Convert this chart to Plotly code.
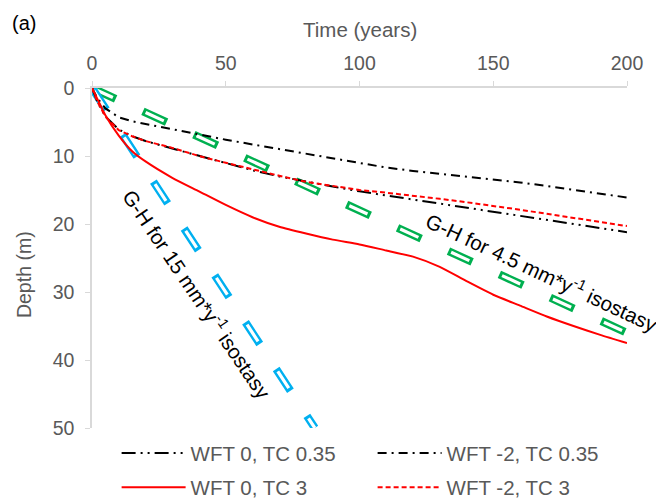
import plotly.graph_objects as go

# ---- data ----
years = [0, 2, 5, 10, 15, 20, 30, 40, 50, 60, 70, 80, 90, 100, 110, 120, 130, 140, 150, 160, 170, 180, 190, 200]
wft0_tc035 = [0, 2.0, 4.2, 6.1, 7.1, 7.8, 8.9, 10.0, 11.1, 12.1, 13.0, 13.8, 14.5, 15.2, 15.8, 16.4, 17.0, 17.6, 18.2, 18.8, 19.4, 20.0, 20.6, 21.2]
wftm2_tc035 = [0, 1.5, 3.0, 4.3, 4.9, 5.3, 6.0, 6.9, 7.6, 8.3, 9.0, 9.6, 10.4, 11.1, 11.7, 12.2, 12.6, 13.0, 13.4, 13.9, 14.4, 15.0, 15.5, 16.1]
wft0_tc3 = [0, 1.6, 4.0, 7.0, 9.3, 10.8, 13.2, 15.2, 17.2, 19.0, 20.4, 21.4, 22.3, 23.0, 23.9, 24.8, 26.3, 28.4, 30.4, 32.0, 33.6, 35.0, 36.3, 37.5]
wftm2_tc3 = [0, 2.0, 4.2, 6.2, 7.1, 7.8, 8.8, 10.0, 11.0, 12.0, 12.9, 13.8, 14.4, 15.0, 15.4, 15.8, 16.3, 16.8, 17.3, 17.9, 18.5, 19.1, 19.7, 20.3]

gh45_t = [0, 200]
gh45_d = [0, 36]
gh15_t = [0, 83.3]
gh15_d = [0, 50]

x_ticks = [0, 50, 100, 150, 200]
y_ticks = [0, 10, 20, 30, 40, 50]

GREEN = "#00b050"
BLUE = "#00b0f0"
GREY = "#595959"
FONT = "Liberation Sans, Arial, sans-serif"

fig = go.Figure()

def gh_line(t, d, color, shift):
    fig.add_trace(go.Scatter(x=t, y=d, mode="lines", showlegend=False, hoverinfo="skip",
                             line=dict(color=color, width=8, dash="26px,30px")))
    slope = (d[1] - d[0]) / (t[1] - t[0])
    fig.add_trace(go.Scatter(x=[t[0] + shift, t[1]], y=[d[0] + slope * shift, d[1]], mode="lines",
                             showlegend=False, hoverinfo="skip",
                             line=dict(color="white", width=3.2, dash="20px,36px")))

gh_line(gh45_t, gh45_d, GREEN, 1.0)
gh_line(gh15_t, gh15_d, BLUE, 0.6)

fig.add_trace(go.Scatter(x=years, y=wft0_tc035, mode="lines", name="WFT 0, TC 0.35", legend="legend",
                         line=dict(color="black", width=2, dash="14px,5px,2px,5px,2px,5px")))
fig.add_trace(go.Scatter(x=years, y=wftm2_tc035, mode="lines", name="WFT -2, TC 0.35", legend="legend",
                         line=dict(color="black", width=2, dash="9px,5px,2px,5px")))
fig.add_trace(go.Scatter(x=years, y=wft0_tc3, mode="lines", name="WFT 0, TC 3", legend="legend2",
                         line=dict(color="#ff0000", width=2, shape="spline", smoothing=0.6)))
fig.add_trace(go.Scatter(x=years, y=wftm2_tc3, mode="lines", name="WFT -2, TC 3", legend="legend2",
                         line=dict(color="#ff0000", width=2, dash="5px,3px")))

fig.add_annotation(x=168.5, y=27.0, xref="x", yref="y", text="G-H for 4.5 mm*y<sup>-1</sup> isostasy",
                   showarrow=False, textangle=25, font=dict(family=FONT, size=20.5, color="black"))
fig.add_annotation(x=39.5, y=30.3, xref="x", yref="y", text="G-H for 15 mm*y<sup>-1</sup> isostasy",
                   showarrow=False, textangle=56, font=dict(family=FONT, size=20.5, color="black"))
fig.add_annotation(x=-0.128, y=1.19, xref="paper", yref="paper", text="(a)", showarrow=False,
                   xanchor="center", yanchor="middle", font=dict(family=FONT, size=20, color="black"))
fig.add_annotation(x=0.5, y=1.173, xref="paper", yref="paper", text="Time (years)", showarrow=False,
                   xanchor="center", yanchor="middle", font=dict(family=FONT, size=20.5, color=GREY))
fig.add_annotation(x=-0.127, y=0.45, xref="paper", yref="paper", text="Depth (m)", showarrow=False,
                   textangle=-90, xanchor="center", yanchor="middle",
                   font=dict(family=FONT, size=19.5, color=GREY))

leg_common = dict(orientation="h", xanchor="left", yanchor="middle",
                  entrywidth=177, entrywidthmode="pixels", itemwidth=64,
                  font=dict(family=FONT, size=20.5, color=GREY), bgcolor="rgba(0,0,0,0)")

# the page adds an 8px body margin, so the figure is drawn 8px smaller and margins reduced by 8
fig.update_layout(
    width=656, height=495,
    margin=dict(l=84, r=37, t=80, b=75, autoexpand=False),
    paper_bgcolor="white", plot_bgcolor="white",
    font=dict(family=FONT, size=19, color=GREY),
    xaxis=dict(side="top", range=[0, 200], tickvals=x_ticks, showgrid=False, zeroline=False,
               showline=True, linecolor="#d9d9d9", linewidth=1.5, ticks="outside", ticklen=5,
               tickcolor="#d9d9d9", tickfont=dict(size=19.5, color=GREY), automargin=False,
               ticklabelstandoff=3),
    yaxis=dict(range=[50, 0], tickvals=y_ticks, showgrid=False, zeroline=False,
               showline=True, linecolor="#d9d9d9", linewidth=1.5, ticks="outside", ticklen=5,
               tickcolor="#d9d9d9", tickfont=dict(size=19.5, color=GREY), automargin=False,
               ticklabelstandoff=7),
    legend=dict(x=0.046, y=-0.074, **leg_common),
    legend2=dict(x=0.046, y=-0.175, **leg_common),
)

fig.write_html("out.html")
